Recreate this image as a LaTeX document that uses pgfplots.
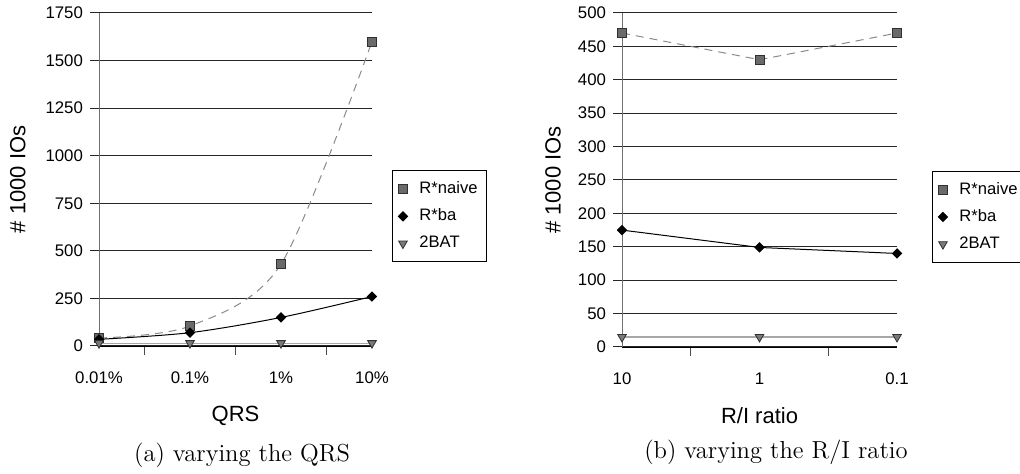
\documentclass[border=0pt]{standalone}
\usepackage{fontspec}
\usepackage{pgfplots}
\pgfplotsset{compat=1.18}
\newfontfamily\arial{Liberation Sans}
\definecolor{sqfill}{HTML}{6A6A6A}
\definecolor{sqdraw}{HTML}{303030}
\definecolor{trfill}{HTML}{7A7A7A}
\definecolor{naiveline}{HTML}{8A8A8A}
\definecolor{batline}{HTML}{A8A8A8}
\definecolor{yaxis}{HTML}{707070}

\pgfplotstableread{
x naive ba bat
0 42 35 15
1 105 70 15
2 430 150 15
3 1600 260 15
}\qrsdata
\pgfplotstableread{
x naive ba bat
0 470 175 15
1 430 149 15
2 470 140 15
}\ridata

\pgfplotsset{
  mychart/.style={
    scale only axis, width=136.5pt, height=166.5pt,
    axis x line*=bottom, axis y line*=left,
    axis line style={-},
    y axis line style={draw=yaxis},
    x axis line style={draw=black},
    ymin=0,
    ymajorgrids, grid style={draw=black!85, line width=0.5pt},
    tick align=outside, ytick pos=left, xtick pos=bottom,
    major tick length=4.5pt, minor tick length=4.5pt,
    major y tick style={draw=black!85, line width=0.5pt},
    major x tick style={draw=none},
    minor x tick style={draw=black!70, line width=0.5pt},
    ticklabel style={font=\fontsize{8.4}{10}\arial},
    xticklabel style={yshift=-5pt},
    /pgf/number format/assume math mode=true,
    /pgf/number format/1000 sep={},
    every axis y label/.style={rotate=90, anchor=center, font=\fontsize{11}{13}\arial},
    ylabel={\# 1000 IOs},
    legend style={draw=black, line width=0.5pt, fill=white,
      font=\fontsize{8.3}{10}\arial, anchor=west,
      inner xsep=4.5pt, inner ysep=3.5pt, row sep=2.2pt,
      nodes={inner xsep=0pt},
      cells={anchor=west}},
    legend image code/.code={\path[draw=none, fill=none, use as bounding box] (-0.75pt,0pt) rectangle (8.25pt,0pt);\draw[##1] plot[only marks] coordinates {(0pt,0pt)};},
    naive/.style={draw=naiveline, line width=0.5pt, dash pattern=on 4pt off 3pt,
      mark=square*, mark size=2.3pt, mark options={solid, fill=sqfill, draw=sqdraw, line width=0.4pt}},
    bastyle/.style={draw=black, line width=0.5pt,
      mark=square*, mark size=1.6pt, mark options={solid, rotate=45, fill=black, draw=black}},
    batstyle/.style={draw=batline, line width=0.6pt,
      mark=triangle*, mark size=2.5pt, mark options={solid, rotate=180, fill=trfill, draw=sqdraw, line width=0.4pt}},
  }
}

\begin{document}
\begin{tikzpicture}
\path[use as bounding box] (0pt,0pt) rectangle (510pt,237pt);

\begin{axis}[mychart,
  at={(49.5pt,64pt)}, anchor=south west,
  xmin=0, xmax=3, ymax=1750,
  ytick={0,250,500,750,1000,1250,1500,1750},
  xtick={0,1,2,3}, xticklabels={0.01\%,0.1\%,1\%,10\%},
  minor xtick={0.5,1.5,2.5},
  xlabel={QRS},
  every axis x label/.style={at={(axis description cs:0.5,-0.21)}, anchor=center, font=\fontsize{11}{13}\arial},
  ylabel style={at={(axis description cs:-0.297,0.5)}},
  legend style={at={(axis description cs:1.073,0.39)}},
  clip=false]
\addplot[naive, smooth] table[x=x,y=naive] {\qrsdata};
\addlegendentry{R*naive}
\addplot[bastyle, smooth] table[x=x,y=ba] {\qrsdata};
\addlegendentry{R*ba}
\addplot[batstyle] table[x=x,y=bat] {\qrsdata};
\addlegendentry{2BAT}
\node[font=\fontsize{12.3}{14}\selectfont] at (axis description cs:0.524,-0.327) {(a) varying the QRS};
\end{axis}

\begin{axis}[mychart,
  at={(311pt,63.5pt)}, anchor=south west,
  width=137.5pt, height=167pt,
  xmin=0, xmax=2, ymax=500,
  ytick={0,50,...,500},
  xtick={0,1,2}, xticklabels={10,1,0.1},
  minor xtick={0.5,1.5},
  xlabel={R/I ratio},
  every axis x label/.style={at={(axis description cs:0.5,-0.207)}, anchor=center, font=\fontsize{11}{13}\arial},
  ylabel style={at={(axis description cs:-0.251,0.5)}},
  legend style={at={(axis description cs:1.127,0.39)}},
  clip=false]
\addplot[naive] table[x=x,y=naive] {\ridata};
\addlegendentry{R*naive}
\addplot[bastyle] table[x=x,y=ba] {\ridata};
\addlegendentry{R*ba}
\addplot[batstyle] table[x=x,y=bat] {\ridata};
\addlegendentry{2BAT}
\node[font=\fontsize{12.3}{14}\selectfont] at (axis description cs:0.56,-0.315) {(b) varying the R/I ratio};
\end{axis}
\end{tikzpicture}
\end{document}
